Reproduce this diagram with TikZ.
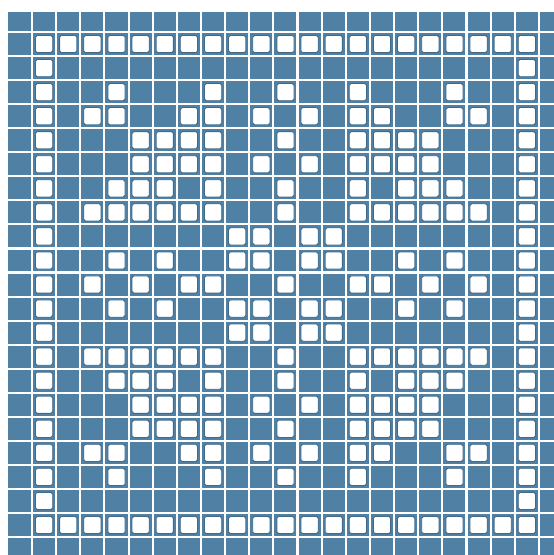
\documentclass[tikz,border=0pt]{standalone}
\definecolor{filet}{RGB}{80,129,164}
\definecolor{filetdark}{RGB}{64,106,136}
\tikzset{
  gridline/.style={white, line width=2.1pt},
  hole/.style={fill=white, draw=filetdark, line width=0.8pt, rounded corners=1.8pt}
}
\begin{document}
\begin{tikzpicture}[x=1pt,y=-1pt]
\useasboundingbox (0,0) rectangle (554,555);
\fill[white] (0,0) rectangle (554,555);
\fill[filet] (8,12) rectangle (554,555);
\foreach \k in {0,...,21} {
  \draw[gridline] ({32+24.14*\k},12) -- ({32+24.14*\k},555);
  \draw[gridline] (8,{32+24.05*\k}) -- (554,{32+24.05*\k});
}
\foreach \r/\cols in {
  1/{1,2,3,4,5,6,7,8,9,10,11,12,13,14,15,16,17,18,19,20,21},
  2/{1,21},
  3/{1,4,8,11,14,18,21},
  4/{1,3,4,7,8,10,12,14,15,18,19,21},
  5/{1,5,6,7,8,11,14,15,16,17,21},
  6/{1,5,6,7,8,10,12,14,15,16,17,21},
  7/{1,4,5,6,8,11,14,16,17,18,21},
  8/{1,3,4,5,6,7,8,11,14,15,16,17,18,19,21},
  9/{1,9,10,12,13,21},
  10/{1,4,6,9,10,12,13,16,18,21},
  11/{1,3,5,7,8,11,14,15,17,19,21}} {
  \foreach \c in \cols {
    \pgfmathsetmacro{\cx}{32+24.14*(\c-0.5)}
    \pgfmathsetmacro{\cyA}{32+24.05*(\r-0.5)}
    \pgfmathsetmacro{\cyB}{32+24.05*(22-\r-0.5)}
    \path[hole] (\cx-8.6,\cyA-8.6) rectangle (\cx+8.6,\cyA+8.6);
    \path[hole] (\cx-8.6,\cyB-8.6) rectangle (\cx+8.6,\cyB+8.6);
  }
}
\end{tikzpicture}
\end{document}
